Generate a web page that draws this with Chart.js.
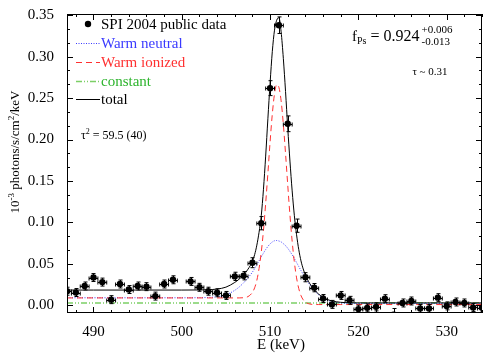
<!DOCTYPE html>
<html>
<head>
<meta charset="utf-8">
<script src="https://cdn.jsdelivr.net/npm/chart.js@4.4.1/dist/chart.umd.min.js"></script>
<style>
  html, body { margin: 0; padding: 0; background: #fff; }
</style>
</head>
<body>
<canvas id="spec" width="491" height="358"></canvas>
<script>
// SPI 2004 public data (keV bins, 1e-3 ph/s/cm2/keV)
const energies = [487, 488, 489, 490, 491, 492, 493, 494, 495, 496, 497, 498, 499, 500,
  501, 502, 503, 504, 505, 506, 507, 508, 509, 510, 511, 512, 513, 514, 515, 516, 517,
  518, 519, 520, 521, 522, 523, 524, 525, 526, 527, 528, 529, 530, 531, 532, 533, 534];
const flux = [0.0169, 0.0153, 0.0232, 0.0334, 0.0279, 0.0067, 0.0256, 0.0189, 0.0232, 0.0224,
  0.0110, 0.0256, 0.0307, null, 0.0287, 0.0216, 0.0169, 0.0150, 0.0118, 0.0348, 0.0356,
  0.0513, 0.0990, 0.2620, 0.3380, 0.2190, 0.0960, 0.0338, 0.0212, 0.0081, 0.0010, 0.0118,
  0.0059, -0.0047, -0.0032, -0.0020, 0.0079, -0.0115, 0.0027, 0.0051, -0.0039, -0.0039,
  0.0091, -0.0008, 0.0039, 0.0027, -0.0027, -0.0032];
const fluxErr = [0.0048, 0.0048, 0.0048, 0.0048, 0.0048, 0.0048, 0.0048, 0.0048, 0.0048, 0.0048,
  0.0048, 0.0048, 0.0048, 0.0048, 0.0048, 0.0048, 0.0048, 0.0048, 0.0048, 0.0050, 0.0050,
  0.0060, 0.0080, 0.0090, 0.0100, 0.0095, 0.0080, 0.0055, 0.0050, 0.0048, 0.0048, 0.0048,
  0.0048, 0.0048, 0.0048, 0.0048, 0.0048, 0.0075, 0.0048, 0.0048, 0.0048, 0.0048,
  0.0048, 0.0048, 0.0048, 0.0048, 0.0048, 0.0048];
const binHalf = 0.5;

// model curves
const modelE = [487, 490, 495, 500, 502, 503, 504, 505, 506, 506.5, 507, 507.5, 508, 508.25,
  508.5, 508.75, 509, 509.25, 509.5, 509.75, 510, 510.25, 510.5, 510.75, 511, 511.25, 511.5,
  511.75, 512, 512.25, 512.5, 512.75, 513, 513.25, 513.5, 513.75, 514, 514.5, 515, 515.5,
  516, 516.5, 517, 518, 519, 520, 525, 530, 534];
const warmNeutral = [0.0090, 0.0090, 0.0090, 0.0090, 0.0091, 0.0094, 0.0102, 0.0125, 0.0180,
  0.0220, 0.0270, 0.0330, 0.0400, 0.0442, 0.0489, 0.0536, 0.0583, 0.0629, 0.0672, 0.0709,
  0.0740, 0.0763, 0.0778, 0.0781, 0.0775, 0.0764, 0.0743, 0.0719, 0.0687, 0.0650, 0.0608,
  0.0563, 0.0515, 0.0467, 0.0419, 0.0372, 0.0327, 0.0246, 0.0179, 0.0126, 0.0088, 0.0061,
  0.0044, 0.0027, 0.0022, 0.0020, 0.0020, 0.0020, 0.0020];
const warmIonized = [0.0088, 0.0088, 0.0088, 0.0088, 0.0088, 0.0088, 0.0088, 0.0088, 0.0088,
  0.0088, 0.0091, 0.0104, 0.0154, 0.0210, 0.0300, 0.0443, 0.0640, 0.0900, 0.1230, 0.1590,
  0.1970, 0.2305, 0.2550, 0.2663, 0.2630, 0.2467, 0.2185, 0.1831, 0.1450, 0.1087, 0.0771,
  0.0518, 0.0330, 0.0200, 0.0116, 0.0066, 0.0037, 0.0014, 0.0009, 0.0008, 0.0008, 0.0008,
  0.0008, 0.0008, 0.0008, 0.0008, 0.0008, 0.0008, 0.0008];
const total = [0.0183, 0.0183, 0.0183, 0.0183, 0.0184, 0.0187, 0.0195, 0.0218, 0.0275,
  0.0315, 0.0365, 0.0435, 0.0530, 0.0610, 0.0725, 0.0880, 0.1080, 0.1400, 0.1800, 0.2250,
  0.2680, 0.3060, 0.3320, 0.3440, 0.3470, 0.3300, 0.2980, 0.2580, 0.2140, 0.1740, 0.1380,
  0.1080, 0.0850, 0.0670, 0.0535, 0.0438, 0.0364, 0.0260, 0.0188, 0.0134, 0.0096, 0.0069,
  0.0052, 0.0035, 0.0030, 0.0028, 0.0028, 0.0028, 0.0028];
const constE = [487, 534];
const constLevel = [0.0028, 0.0028];

const serif = '"Liberation Serif", "Times New Roman", Times, serif';
const blue = '#3a3aff', red = '#ff3030', green = '#2db42d', lightGreen = '#7ccf66';

function pts(xs, ys) {
  return xs.map((x, i) => ({ x: x, y: ys[i] }));
}

// draws a run of text pieces (size, vertical shift) starting at x
function richWidth(ctx, parts) {
  let w = 0;
  parts.forEach(p => { ctx.font = p.size + 'px ' + serif; w += ctx.measureText(p.t).width; });
  return w;
}
function drawRich(ctx, parts, x, y, color) {
  ctx.fillStyle = color;
  ctx.textBaseline = 'alphabetic';
  ctx.textAlign = 'left';
  parts.forEach(p => {
    ctx.font = p.size + 'px ' + serif;
    ctx.fillText(p.t, x, y + (p.dy || 0));
    x += ctx.measureText(p.t).width;
  });
  return x;
}

const errorBars = {
  id: 'errorBars',
  afterDatasetsDraw(chart) {
    const { ctx, chartArea: a, scales: { x, y } } = chart;
    ctx.save();
    ctx.beginPath();
    ctx.rect(a.left, a.top, a.right - a.left, a.bottom - a.top);
    ctx.clip();
    ctx.strokeStyle = '#000';
    ctx.lineWidth = 1;
    energies.forEach((e, i) => {
      const v = flux[i];
      if (v === null) return;
      const px = Math.round(x.getPixelForValue(e)) + 0.5;
      const py = Math.round(y.getPixelForValue(v)) + 0.5;
      const xl = x.getPixelForValue(e - binHalf), xr = x.getPixelForValue(e + binHalf);
      const yt = y.getPixelForValue(v + fluxErr[i]), yb = y.getPixelForValue(v - fluxErr[i]);
      ctx.beginPath();
      ctx.moveTo(xl, py); ctx.lineTo(xr, py);
      ctx.moveTo(xl, py - 2); ctx.lineTo(xl, py + 2);
      ctx.moveTo(xr, py - 2); ctx.lineTo(xr, py + 2);
      ctx.moveTo(px, yt); ctx.lineTo(px, yb);
      ctx.moveTo(px - 2, yt); ctx.lineTo(px + 2, yt);
      ctx.moveTo(px - 2, yb); ctx.lineTo(px + 2, yb);
      ctx.stroke();
    });
    ctx.restore();
  }
};

const frame = {
  id: 'frame',
  afterDraw(chart) {
    const { ctx, chartArea: a, scales: { x, y } } = chart;
    ctx.save();
    ctx.strokeStyle = '#000';
    ctx.lineWidth = 1;
    ctx.strokeRect(a.left + 0.5, a.top + 0.5, a.right - a.left - 1, a.bottom - a.top - 1);

    // inward ticks on all four sides
    ctx.beginPath();
    for (let e = 488; e <= 534; e += 2) {
      const len = e % 10 === 0 ? 6 : 3;
      const px = Math.round(x.getPixelForValue(e)) + 0.5;
      ctx.moveTo(px, a.bottom); ctx.lineTo(px, a.bottom - len);
      ctx.moveTo(px, a.top); ctx.lineTo(px, a.top + len);
    }
    for (let k = 0; k <= 21; k++) {
      const v = k * 0.05 / 3;
      const len = k % 3 === 0 ? 6 : 3;
      const py = Math.round(y.getPixelForValue(v)) + 0.5;
      ctx.moveTo(a.left, py); ctx.lineTo(a.left + len, py);
      ctx.moveTo(a.right, py); ctx.lineTo(a.right - len, py);
    }
    ctx.stroke();

    // axis titles
    ctx.fillStyle = '#000';
    ctx.font = '15px ' + serif;
    ctx.textAlign = 'center';
    ctx.textBaseline = 'middle';
    ctx.fillText('E (keV)', 281, 345);

    const yTitle = [
      { t: '10', size: 13 }, { t: '-3', size: 9, dy: -5 },
      { t: ' photons/s/cm', size: 13 }, { t: '2', size: 9, dy: -5 },
      { t: '/keV', size: 13 }
    ];
    ctx.save();
    ctx.translate(19, 152);
    ctx.rotate(-Math.PI / 2);
    drawRich(ctx, yTitle, -richWidth(ctx, yTitle) / 2, 0, '#000');
    ctx.restore();

    // legend
    const lx0 = 76, lx1 = 100, tx = 101;
    ctx.beginPath();
    ctx.arc(88, 24, 3.2, 0, Math.PI * 2);
    ctx.fillStyle = '#000';
    ctx.fill();
    drawRich(ctx, [{ t: 'SPI 2004 public data', size: 15 }], tx, 29, '#000');

    const rows = [
      { label: 'Warm neutral', y: 43, color: blue, text: blue, dash: [1, 1.5], w: 1 },
      { label: 'Warm ionized', y: 62, color: red, text: red, dash: [6, 4], w: 1 },
      { label: 'constant', y: 81, color: lightGreen, text: green, dash: [6, 2, 1, 2, 1, 2], w: 1.5 },
      { label: 'total', y: 99, color: '#000', text: '#000', dash: [], w: 1 }
    ];
    rows.forEach(r => {
      ctx.save();
      ctx.strokeStyle = r.color;
      ctx.lineWidth = r.w;
      ctx.setLineDash(r.dash);
      ctx.beginPath();
      ctx.moveTo(lx0, r.y + 0.5); ctx.lineTo(lx1, r.y + 0.5);
      ctx.stroke();
      ctx.restore();
      drawRich(ctx, [{ t: r.label, size: 15 }], tx, r.y + 5, r.text);
    });

    // annotations
    drawRich(ctx, [{ t: '\u03c4', size: 12 }, { t: '2', size: 8, dy: -5 }, { t: ' = 59.5 (40)', size: 12 }],
      81, 139, '#000');
    let fx = drawRich(ctx, [{ t: 'f', size: 15 }, { t: 'Ps', size: 10, dy: 3 }, { t: ' = 0.924', size: 16 }],
      352, 41, '#000');
    drawRich(ctx, [{ t: '+0.006', size: 11 }], fx + 2, 33, '#000');
    drawRich(ctx, [{ t: '-0.013', size: 11 }], fx + 2, 45, '#000');
    ctx.font = '11px ' + serif;
    ctx.textAlign = 'center';
    ctx.textBaseline = 'middle';
    ctx.fillStyle = '#000';
    ctx.fillText('\u03c4 ~ 0.31', 430, 72);
    ctx.restore();
  }
};

const ctx = document.getElementById('spec').getContext('2d');
const chart = new Chart(ctx, {
  type: 'scatter',
  data: {
    datasets: [
      {
        label: 'SPI 2004 public data',
        data: pts(energies, flux),
        pointRadius: 3.2,
        pointBackgroundColor: '#000',
        pointBorderWidth: 0,
        showLine: false
      },
      {
        label: 'total',
        data: pts(modelE, total),
        showLine: true, pointRadius: 0,
        borderColor: '#000', borderWidth: 1,
        cubicInterpolationMode: 'monotone'
      },
      {
        label: 'Warm ionized',
        data: pts(modelE, warmIonized),
        showLine: true, pointRadius: 0,
        borderColor: red, borderWidth: 1, borderDash: [6, 4],
        cubicInterpolationMode: 'monotone'
      },
      {
        label: 'Warm neutral',
        data: pts(modelE, warmNeutral),
        showLine: true, pointRadius: 0,
        borderColor: blue, borderWidth: 1, borderDash: [1, 1.5],
        cubicInterpolationMode: 'monotone'
      },
      {
        label: 'constant',
        data: pts(constE, constLevel),
        showLine: true, pointRadius: 0,
        borderColor: lightGreen, borderWidth: 1.5, borderDash: [6, 2, 1, 2, 1, 2]
      }
    ]
  },
  options: {
    responsive: false,
    animation: false,
    events: [],
    layout: { padding: { left: 0, right: 9, top: 7, bottom: 0 } },
    plugins: {
      legend: { display: false },
      tooltip: { enabled: false }
    },
    scales: {
      x: {
        type: 'linear',
        min: 487,
        max: 534,
        afterFit: s => { s.height = 45; },
        grid: { display: false },
        border: { display: false },
        ticks: {
          stepSize: 10,
          includeBounds: false,
          maxRotation: 0,
          padding: 2,
          color: '#000',
          font: { family: serif, size: 15 }
        }
      },
      y: {
        type: 'linear',
        min: -0.0094,
        max: 0.3515,
        afterFit: s => { s.width = 67; },
        grid: { display: false },
        border: { display: false },
        ticks: {
          stepSize: 0.05,
          includeBounds: false,
          padding: 5,
          color: '#000',
          font: { family: serif, size: 15 },
          callback: v => v.toFixed(2)
        }
      }
    }
  },
  plugins: [errorBars, frame]
});
</script>
</body>
</html>
